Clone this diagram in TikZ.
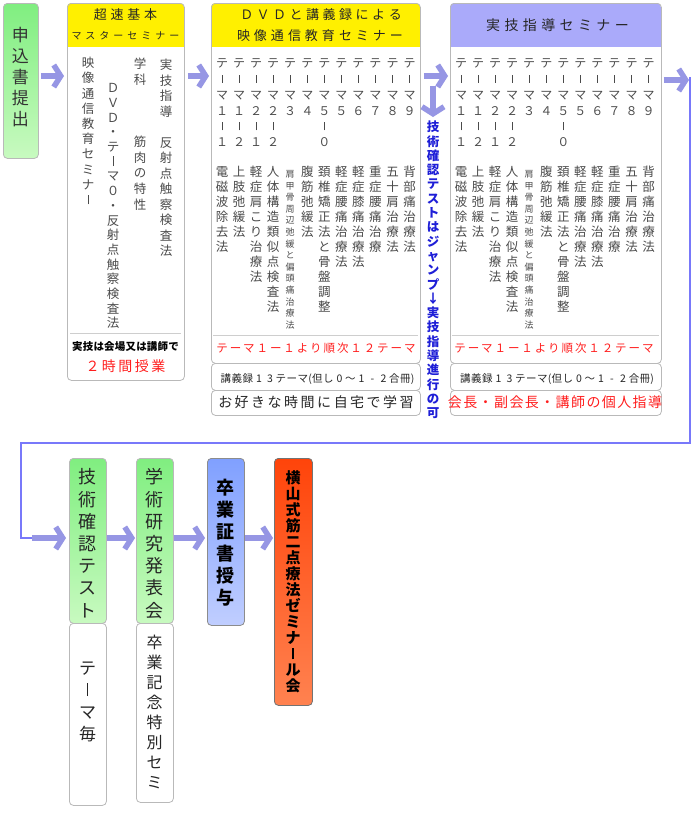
\documentclass[tikz,border=0pt]{standalone}
\usepackage{fontspec}
\usepackage{graphicx}
\setmainfont{Noto Sans CJK JP}
\usetikzlibrary{arrows.meta}
\def\vbw{0.065em}
\newcommand\VbarL{\vrule width \vbw height 0.8em depth -0.02em}
\newcommand\VbarS{\vrule width \vbw height 0.72em depth -0.04em}
\ExplSyntaxOn
\tl_new:N \l_vt_tl
\NewDocumentCommand\VT{O{15pt}m}{
  \tl_set:Nx \l_vt_tl {#2}
  \tl_replace_all:Nnn \l_vt_tl {｜} {\VbarL}
  \tl_replace_all:Nnn \l_vt_tl {|} {\VbarS}
  \vtop{\baselineskip=#1\relax\lineskiplimit=-100pt\relax
    \tl_map_inline:Nn \l_vt_tl {\hbox_to_wd:nn{1.1em}{\hss##1\hss}}}
}
\NewDocumentCommand\HT{O{1em}m}{
  \tl_set:Nx \l_vt_tl {#2}
  \hbox{\tl_map_inline:Nn \l_vt_tl {\hbox_to_wd:nn{#1}{\hss##1\hss}}}
}
\ExplSyntaxOff
\definecolor{arrowc}{RGB}{150,150,228}
\definecolor{linec}{RGB}{120,120,250}
\definecolor{grn1}{RGB}{128,238,128}
\definecolor{grn2}{RGB}{200,250,192}
\definecolor{yel}{RGB}{255,240,0}
\definecolor{lav}{RGB}{170,170,250}
\definecolor{blu1}{RGB}{128,160,255}
\definecolor{blu2}{RGB}{192,206,255}
\definecolor{org1}{RGB}{255,68,10}
\definecolor{org2}{RGB}{255,130,80}
\definecolor{bord}{RGB}{185,185,185}
\definecolor{txt}{RGB}{75,75,75}
\definecolor{bluet}{RGB}{30,30,215}
\definecolor{redt}{RGB}{255,30,30}
\tikzset{
  box/.style={draw=bord, line width=0.8pt, rounded corners=4pt, inner sep=0pt, anchor=north west},
  vtn/.style={inner sep=0pt, anchor=base, text=txt},
  fat/.style={draw=arrowc, line width=6.5pt, -{Straight Barb[length=7pt,width=22pt,line width=5.5pt]}},
  link/.style={draw=linec, line width=2.5pt},
  sep/.style={draw=bord!70, line width=0.7pt},
}
\begin{document}
\begin{tikzpicture}[x=1pt,y=-1pt]
\useasboundingbox (0,0) rectangle (693,817);
\fill[white] (0,0) rectangle (693,817);

% ---- box 1
\node[box, top color=grn1, bottom color=grn2, minimum width=35pt, minimum height=155pt] (b1) at (3,3) {};
\node[vtn, text=black!80, font=\fontsize{17}{17}\selectfont] (b1t) at (20.5,41.5) {\VT[21pt]{申込書提出}};

% ---- box 2
\fill[white, rounded corners=4pt] (67,3) rectangle (184,380);
\begin{scope}\clip[rounded corners=4pt] (67,3) rectangle (184,380);
\fill[yel] (67,3) rectangle (184,47);\end{scope}
\node[box, minimum width=117pt, minimum height=377pt] (b2) at (67,3) {};
\node[vtn, text=black!85, font=\fontsize{13}{13}\selectfont] (b2h1) at (125.5,19.9) {\HT[16.7pt]{超速基本}};
\node[vtn, text=black!85, font=\fontsize{10}{10}\selectfont] (b2h2) at (125.5,39.8) {\HT[14pt]{マスターセミナー}};
\node[vtn, font=\fontsize{12.5}{12.5}\selectfont] (b2a) at (166,69.75) {\VT[15.5pt]{実技指導　反射点触察検査法}};
\node[vtn, font=\fontsize{12.5}{12.5}\selectfont] (b2b) at (140,68.75) {\VT[15.6pt]{学科　　　筋肉の特性}};
\node[vtn, font=\fontsize{12.5}{12.5}\selectfont] (b2c) at (113,92.75) {\VT[14.7pt]{ＤＶＤ・テ｜マ０・反射点触察検査法}};
\node[vtn, font=\fontsize{12.5}{12.5}\selectfont] (b2d) at (88,67.75) {\VT[15.2pt]{映像通信教育セミナ｜}};
\draw[sep] (70,333) -- (181,333);
\node[vtn, text=black, font=\fontsize{10.5}{10.5}\selectfont\bfseries] (b2e) at (125.5,350) {\HT[10.7pt]{実技は会場又は講師で}};
\node[vtn, text=redt, font=\fontsize{14}{14}\selectfont] (b2f) at (125.5,371.3) {\HT[16.5pt]{２時間授業}};

% ---- boxes 3 and 4 bodies
\foreach \L/\R/\hc/\nm in {211/420/yel/d, 450/661/lav/j}{
  \fill[white, rounded corners=4pt] (\L,3) rectangle (\R,363);
  \begin{scope}\clip[rounded corners=4pt] (\L,3) rectangle (\R,363);
  \fill[\hc] (\L,3) rectangle (\R,47);\end{scope}
  \draw[sep] ({\L+2},335) -- ({\R-2},335);
  \foreach \ctext [count=\i from 0] in {テ|マ１|１,テ|マ１|２,テ|マ２|１,テ|マ２|２,テ|マ３,テ|マ４,テ|マ５|０,テ|マ５,テ|マ６,テ|マ７,テ|マ８,テ|マ９}{
    \node[vtn, font=\fontsize{12}{12}\selectfont] (\nm-t\i) at ({\L+11+17.05*\i},67.6) {\VT[15.8pt]{\ctext}};
  }
  \foreach \i/\ctext in {0/電磁波除去法,1/上肢弛緩法,2/軽症肩こり治療法,3/人体構造類似点検査法,5/腹筋弛緩法,6/頚椎矯正法と骨盤調整,7/軽症腰痛治療法,8/軽症膝痛治療法,9/重症腰痛治療,10/五十肩治療法,11/背部痛治療法}{
    \node[vtn, font=\fontsize{12.5}{12.5}\selectfont] (\nm-b\i) at ({\L+11+17.05*\i},176.75) {\VT[15pt]{\ctext}};
  }
  \node[vtn, font=\fontsize{9}{9}\selectfont] (\nm-b4) at ({\L+11+17.05*4},177.4) {\VT[11.6pt]{肩甲骨周辺弛緩と偏頭痛治療法}};
}
\node[box, minimum width=209pt, minimum height=360pt] (b3) at (211,3) {};
\node[box, minimum width=211pt, minimum height=360pt] (b4) at (450,3) {};

% box 3 texts
\node[vtn, text=black!85, font=\fontsize{13}{13}\selectfont] (b3h1) at (321,19.9) {\HT[16.5pt]{ＤＶＤと講義録による}};
\node[vtn, text=black!85, font=\fontsize{13}{13}\selectfont] (b3h2) at (320,40.9) {\HT[17pt]{映像通信教育セミナー}};
\node[vtn, text=redt, font=\fontsize{11.5}{11.5}\selectfont] (b3r) at (316,352.4) {\HT[13.4pt]{テーマ１ー１より順次１２テーマ}};
\node[box, minimum width=209pt, minimum height=27pt] (b3s1) at (211,363) {};
\node[vtn, text=black!85, font=\fontsize{10.5}{10.5}\selectfont] (b3s1t) at (317.5,382) {\HT[11pt]{講義録13テーマ}(\HT[11pt]{但し0～1-2合冊})};
\node[box, minimum width=209pt, minimum height=25pt] (b3s2) at (211,390) {};
\node[vtn, text=black!85, font=\fontsize{14}{14}\selectfont] (b3s2t) at (316,407.3) {\HT[16.5pt]{お好きな時間に自宅で学習}};

% box 4 texts
\node[vtn, text=black!85, font=\fontsize{14}{14}\selectfont] (b4h) at (557.5,30.3) {\HT[18.4pt]{実技指導セミナー}};
\node[vtn, text=redt, font=\fontsize{11.5}{11.5}\selectfont] (b4r) at (554,352.4) {\HT[13.4pt]{テーマ１ー１より順次１２テーマ}};
\node[box, minimum width=211pt, minimum height=27pt] (b4s1) at (450,363) {};
\node[vtn, text=black!85, font=\fontsize{10.5}{10.5}\selectfont] (b4s1t) at (557,382) {\HT[11pt]{講義録13テーマ}(\HT[11pt]{但し0～1-2合冊})};
\node[box, minimum width=211pt, minimum height=25pt] (b4s2) at (450,390) {};
\node[vtn, text=redt, font=\fontsize{14}{14}\selectfont] (b4s2t) at (555,407.3) {\HT[15.4pt]{会長・副会長・講師の個人指導}};

% blue note
\node[vtn, text=bluet, font=\fontsize{12.5}{12.5}\selectfont\bfseries] (note) at (433,131.75) {\VT[14.3pt]{技術確認テストはジャンプ↓実技指導進行の可}};

% ---- bottom row
\node[box, top color=grn1, bottom color=grn2, minimum width=37pt, minimum height=165pt] (c1) at (69,458) {};
\node[box, fill=white, minimum width=37pt, minimum height=182pt] (c1w) at (69,623) {};
\node[box, top color=grn1, bottom color=grn2, minimum width=37pt, minimum height=165pt] (c2) at (136,458) {};
\node[box, fill=white, minimum width=37pt, minimum height=179pt] (c2w) at (136,623) {};
\node[box, draw=black!45, top color=blu1, bottom color=blu2, minimum width=37pt, minimum height=167pt] (c3) at (207,458) {};
\node[box, draw=black!55, top color=org1, bottom color=org2, minimum width=38pt, minimum height=247pt] (c4) at (274,458) {};

\node[vtn, text=black!85, font=\fontsize{18}{18}\selectfont] (c1t) at (87.5,483.8) {\VT[22.2pt]{技術確認テスト}};
\node[vtn, text=black!85, font=\fontsize{17}{17}\selectfont] (c1wt) at (87.5,674.5) {\VT[22pt]{テ｜マ毎}};
\node[vtn, text=black!85, font=\fontsize{18}{18}\selectfont] (c2t) at (154.5,483.8) {\VT[22.2pt]{学術研究発表会}};
\node[vtn, text=black!85, font=\fontsize{16}{16}\selectfont] (c2wt) at (154.5,648) {\VT[20pt]{卒業記念特別セミ}};
\node[vtn, text=black, font=\fontsize{18}{18}\selectfont\bfseries] (c3t) at (225.5,494.8) {\VT[22pt]{卒業証書授与}};
\node[vtn, text=black, font=\fontsize{15}{15}\selectfont\bfseries\def\vbw{0.13em}] (c4t) at (293,483.7) {\VT[16pt]{横山式筋二点療法ゼミナ｜ル会}};

% ---- connectors
\coordinate (ya) at (0,76);
\draw[fat, shorten <=2pt, shorten >=3pt] (b1.east |- ya) -- (b2.west |- ya);
\draw[fat, shorten <=3pt, shorten >=2pt] (b2.east |- ya) -- (b3.west |- ya);
\draw[fat, shorten <=3pt, shorten >=2pt] (b3.east |- ya) -- (b4.west |- ya);
\coordinate (dA) at (433,86);
\coordinate (dB) at (433,117);
\draw[fat] (dA) -- (dB);
\coordinate (r0) at (689,80);
\draw[fat, shorten <=2pt] (b4.east |- r0) -- (r0);
\coordinate (lA) at (690,77);
\coordinate (lC) at (21,443);
\coordinate (lD) at (21,538);
\coordinate (lE) at (32,538);
\draw[link, line join=miter] (lA) |- (lC) -- (lD) -- (lE);
\draw[fat, shorten >=3pt] (lE) -- (c1.west |- lE);
\coordinate (yb) at (0,538);
\draw[fat, shorten >=1pt] (c1.east |- yb) -- (c2.west |- yb);
\draw[fat, shorten >=2pt] (c2.east |- yb) -- (c3.west |- yb);
\draw[fat, shorten >=1pt] (c3.east |- yb) -- (c4.west |- yb);
\end{tikzpicture}
\end{document}
